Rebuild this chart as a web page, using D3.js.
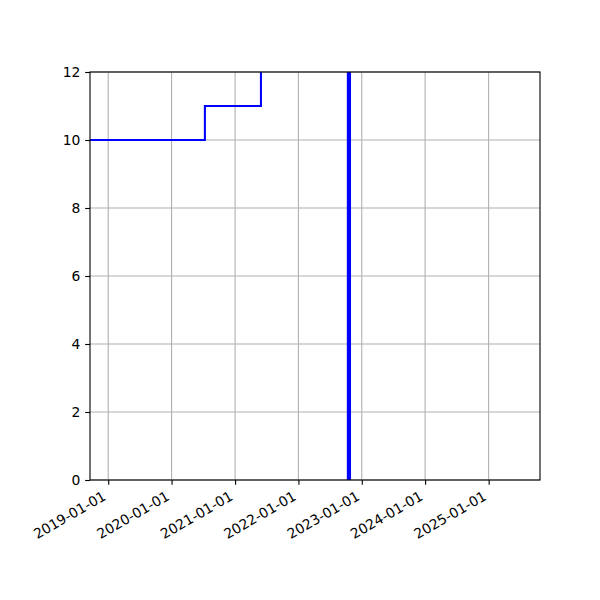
<!DOCTYPE html>
<html>
<head>
<meta charset="utf-8">
<script src="https://cdn.jsdelivr.net/npm/d3@7"></script>
<style>
  body { margin: 0; background: #fff; }
</style>
</head>
<body>
<svg id="drawing_region"></svg>
<script>
// step series (steps-post)
const stepDates = ['2018-06-01', '2020-07-11', '2021-05-30', '2022-10-19'];
const stepValues = [10, 11, 13, 13];
// vertical marker
const markerDate = '2022-10-19';
// axes
const xLimits = ['2018-09-18', '2025-10-24'];
const yLimits = [0, 12];
const yTicks = [0, 2, 4, 6, 8, 10, 12];
const xTickLabels = ['2019-01-01', '2020-01-01', '2021-01-01', '2022-01-01', '2023-01-01', '2024-01-01', '2025-01-01'];

const parse = d3.utcParse('%Y-%m-%d');
const width = 600, height = 600;
const margin = { top: 72, right: 60, bottom: 120, left: 90 };
const innerW = width - margin.left - margin.right;
const innerH = height - margin.top - margin.bottom;
const fontSize = 13.89;
const fontFamily = '"DejaVu Sans", sans-serif';

const svg = d3.select('#drawing_region')
    .attr('width', width)
    .attr('height', height);

const chart = svg.append('g')
    .attr('transform', `translate(${margin.left}, ${margin.top})`);

const xscale = d3.scaleUtc().domain(xLimits.map(parse)).range([0, innerW]);
const yscale = d3.scaleLinear().domain(yLimits).range([innerH, 0]);

svg.append('defs').append('clipPath').attr('id', 'clip')
    .append('rect').attr('width', innerW).attr('height', innerH);

// grid
const xTickDates = xTickLabels.map(parse);
chart.append('g').selectAll('line')
    .data(xTickDates)
    .join('line')
    .attr('x1', d => xscale(d)).attr('x2', d => xscale(d))
    .attr('y1', 0).attr('y2', innerH)
    .attr('stroke', '#b0b0b0').attr('stroke-width', 1.1);
chart.append('g').selectAll('line')
    .data(yTicks)
    .join('line')
    .attr('x1', 0).attr('x2', innerW)
    .attr('y1', d => yscale(d)).attr('y2', d => yscale(d))
    .attr('stroke', '#b0b0b0').attr('stroke-width', 1.1);

// step line
const stepData = stepDates.map((d, i) => ({ date: parse(d), value: stepValues[i] }));
const line = d3.line()
    .x(d => xscale(d.date))
    .y(d => yscale(d.value))
    .curve(d3.curveStepAfter);
const plot = chart.append('g').attr('clip-path', 'url(#clip)');
plot.append('path')
    .datum(stepData)
    .attr('fill', 'none')
    .attr('stroke', 'blue')
    .attr('stroke-width', 2.08)
    .attr('d', line);

// vertical marker
plot.append('line')
    .attr('x1', xscale(parse(markerDate))).attr('x2', xscale(parse(markerDate)))
    .attr('y1', 0).attr('y2', innerH)
    .attr('stroke', 'blue').attr('stroke-width', 4.2);

// axes
const xaxis = d3.axisBottom(xscale)
    .tickValues(xTickDates)
    .tickFormat(d3.utcFormat('%Y-%m-%d'))
    .tickSize(4.86).tickPadding(3.5).tickSizeOuter(0);
const yaxis = d3.axisLeft(yscale)
    .tickValues(yTicks)
    .tickSize(4.86).tickPadding(4.86).tickSizeOuter(0);

const xg = chart.append('g')
    .attr('transform', `translate(0, ${innerH})`)
    .call(xaxis)
    .attr('font-family', fontFamily)
    .attr('font-size', fontSize);
xg.select('.domain').remove();
xg.selectAll('line').attr('stroke', '#000').attr('stroke-width', 1.1);
// rotated labels: top-right corner of rotated box at tick end + pad
xg.selectAll('.tick text')
    .attr('fill', '#000')
    .attr('text-anchor', 'end')
    .attr('x', null).attr('y', null).attr('dy', null)
    .attr('transform', 'translate(-1.7, 19) rotate(-30)');

const yg = chart.append('g').call(yaxis)
    .attr('font-family', fontFamily)
    .attr('font-size', fontSize);
yg.select('.domain').remove();
yg.selectAll('line').attr('stroke', '#000').attr('stroke-width', 1.1);
yg.selectAll('text').attr('fill', '#000');

// frame
chart.append('rect')
    .attr('width', innerW).attr('height', innerH)
    .attr('fill', 'none').attr('stroke', '#000').attr('stroke-width', 1.1);
</script>
</body>
</html>
